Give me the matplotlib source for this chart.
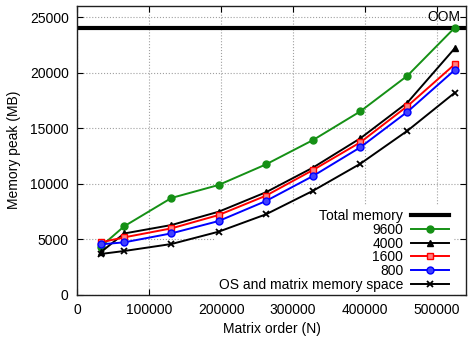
import matplotlib
matplotlib.use('Agg')
import matplotlib.pyplot as plt

plt.rcParams['font.family'] = ['Liberation Sans', 'DejaVu Sans']

# matrix order N
N = [32768, 65536, 131072, 196608, 262144, 327680, 393216, 458752, 524288]

# memory peak (MB) per block size
mem_9600 = [4300, 6150, 8700, 9870, 11720, 13920, 16500, 19720, 24040]
mem_4000 = [3800, 5500, 6260, 7460, 9210, 11440, 14070, 17300, 22180]
mem_1600 = [4700, 5150, 5960, 7160, 8900, 11220, 13710, 16980, 20740]
mem_800 = [4520, 4700, 5510, 6620, 8420, 10680, 13260, 16470, 20230]
mem_os = [3650, 3920, 4550, 5660, 7220, 9350, 11780, 14760, 18180]
total_memory = 24000

fig = plt.figure(figsize=(4.69, 3.38), dpi=100)
ax = fig.add_axes([77 / 469, 1 - 294.5 / 338, (466 - 77) / 469, (294.5 - 6) / 338])

ax.axhline(total_memory, color='black', lw=3, label='Total memory')
ax.plot(N, mem_9600, color='#159015', marker='o', ms=5, lw=1.4, label='9600')
ax.plot(N, mem_4000, color='black', marker='^', ms=5, lw=1.4, label='4000')
ax.plot(N, mem_1600, color='red', marker='s', ms=5, mfc='#ff8080', lw=1.4, label='1600')
ax.plot(N, mem_800, color='blue', marker='o', ms=5, mfc='#4040ff', lw=1.4, label='800')
ax.plot(N, mem_os, color='black', marker='x', ms=4, mew=1.3, lw=1.4,
        label='OS and matrix memory space')

ax.text(0.985, 25000, 'OOM', transform=ax.get_yaxis_transform(), ha='right', va='center', fontsize=10)

ax.set_xlim(0, 540000)
ax.set_ylim(0, 26000)
ax.set_xticks([0, 100000, 200000, 300000, 400000, 500000])
ax.set_yticks([0, 5000, 10000, 15000, 20000, 25000])
ax.tick_params(direction='in', top=True, right=True, labelsize=10, length=4, pad=6)
ax.grid(True, color='#a0a0a0', ls=':', lw=0.8)
ax.set_axisbelow(True)
for s in ax.spines.values():
    s.set_linewidth(1.0)
    s.set_color('#202020')

ax.set_xlabel('Matrix order (N)', fontsize=10)
ax.set_ylabel('Memory peak (MB)', fontsize=10, labelpad=6)

# gnuplot-style key: blanks the grid only, text right-aligned before the sample
leg = ax.legend(loc='lower right', frameon=True, fancybox=False, facecolor='white',
                edgecolor='none', framealpha=1, fontsize=10, markerfirst=False,
                handlelength=2.7, handletextpad=0.6, labelspacing=-0.02,
                borderpad=0.3, borderaxespad=0, bbox_to_anchor=(0.967, -0.005))
leg.set_zorder(1.5)

fig.savefig('out.png', dpi=100)
